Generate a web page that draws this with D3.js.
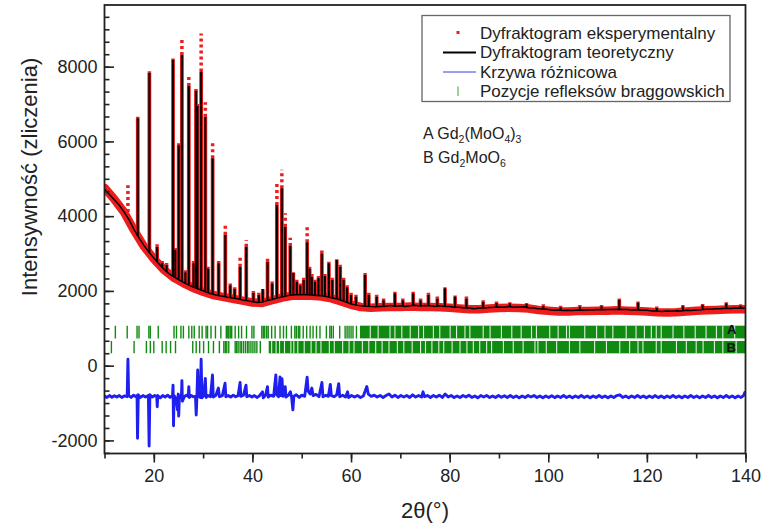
<!DOCTYPE html>
<html><head><meta charset="utf-8">
<script src="https://cdn.jsdelivr.net/npm/d3@7"></script>
<style>
html,body{margin:0;padding:0;background:#fff;}
svg{display:block;font-family:"Liberation Sans",Arial,sans-serif;}
</style></head>
<body><svg id="c" width="765" height="532"></svg>
<script>
// ---------- DATA ----------
const xTicks = [20, 40, 60, 80, 100, 120, 140];
const yTicks = [-2000, 0, 2000, 4000, 6000, 8000];

// calculated background (black curve)
const bgT = [10,11,12,13,14,15,16,17,18,19,20,21,22,23,24,25,26,27,28,29,30,31,32,33,34,35,36,37,38,39,40,41,42,43,44,45,46,47,48,49,50,51,52,53,54,55,56,57,58,59,60,61,62,63,64,65,66,67,68,69,70,71,72,73,74,75,76,77,78,79,80,81,82,83,84,85,86,87,88,89,90,91,92,93,94,95,96,97,98,99,100,101,102,103,104,105,106,107,108,109,110,111,112,113,114,115,116,117,118,119,120,121,122,123,124,125,126,127,128,129,130,131,132,133,134,135,136,137,138,139,140];
const calcBg = [4720,4580,4440,4290,4110,3900,3640,3420,3220,3040,2880,2730,2590,2470,2380,2300,2230,2160,2100,2050,2000,1950,1910,1880,1860,1830,1810,1790,1760,1740,1710,1690,1700,1740,1770,1810,1840,1870,1890,1900,1900,1900,1890,1880,1870,1850,1820,1790,1750,1700,1650,1620,1600,1590,1580,1575,1585,1590,1610,1590,1600,1585,1605,1615,1595,1610,1600,1585,1600,1580,1585,1565,1565,1545,1545,1525,1545,1540,1555,1560,1570,1565,1580,1565,1570,1575,1550,1545,1520,1515,1500,1485,1490,1475,1482,1476,1490,1485,1495,1490,1500,1495,1505,1500,1512,1502,1505,1490,1498,1482,1485,1465,1465,1452,1460,1455,1468,1465,1480,1478,1492,1495,1510,1508,1522,1520,1535,1530,1542,1535,1545];

// observed background (red band)
const obsT = [10,12,14,16,18,20,22,24,26,28,30,32,34,36,38,40,42,44,46,48,50,52,54,56,58,60,62,64,66,68,70,72,74,76,78,80,82,84,86,88,90,92,94,96,98,100,102,104,106,108,110,112,114,116,118,120,122,124,126,128,130,132,134,136,138,140];
const obsBg = [4760,4450,4100,3620,3190,2860,2570,2360,2210,2080,1980,1890,1840,1790,1740,1690,1680,1750,1820,1870,1880,1870,1850,1800,1720,1630,1570,1550,1560,1570,1570,1580,1570,1570,1560,1550,1530,1510,1510,1530,1540,1550,1540,1530,1490,1470,1450,1450,1460,1460,1470,1470,1480,1470,1460,1450,1430,1420,1430,1450,1470,1480,1490,1500,1510,1510];

// Bragg reflections: position, background level, calculated max, observed max
const peakT    = [14.75,16.75,19.1,20.67,21.7,22.6,23.9,24.35,25.05,25.7,26.4,27.1,28.06,28.55,28.85,29.6,30.45,31.0,31.93,33.15,34.5,35.5,36.4,37.5,38.75,40.2,41.3,42.1,43.07,44.0,44.96,45.97,46.65,47.67,48.3,49.0,49.7,50.4,51.1,51.6,52.05,52.7,53.4,54.08,54.7,55.5,56.2,57.1,57.8,58.5,59.2,60.0,61.0,62.85,63.6,65.2,66.6,68.9,70.5,72.6,74.1,75.7,77.5,79.05,81.1,83.4,86.8,89.5,92.2,95.6,99.0,102.5,106.4,110.8,114.4,118.2,122.0,127.3,131.3,136.1,139.0];
const peakBase = [3950,3470,3020,2780,2630,2520,2390,2350,2300,2250,2200,2155,2095,2070,2055,2020,1980,1950,1915,1878,1845,1820,1800,1775,1745,1705,1692,1705,1742,1770,1808,1840,1860,1883,1893,1900,1900,1900,1900,1895,1890,1883,1876,1868,1856,1835,1814,1786,1758,1725,1690,1650,1620,1592,1584,1577,1588,1591,1595,1606,1600,1601,1592,1585,1569,1546,1544,1563,1574,1565,1510,1483,1487,1500,1508,1489,1462,1472,1502,1530,1540];
const peakCalc = [3950,6620,7840,3180,2750,2700,8180,3100,5900,8310,2500,7480,2740,7350,6950,7870,6660,2600,5550,2740,3500,2150,2050,2650,3180,1950,1900,2050,2780,2200,4300,4750,3720,3200,2480,2250,2150,2300,3300,2600,2380,2250,2350,3000,2400,2740,2300,2830,2650,2290,2100,1900,1850,2430,1900,1850,1750,1940,1750,1940,1750,1900,1800,2070,1850,1800,1710,1680,1670,1650,1600,1560,1580,1590,1760,1690,1540,1590,1620,1670,1600];
const peakObs  = [4830,6660,7880,3250,2800,2750,8220,3150,5950,8760,2550,7780,2800,7400,7000,8890,7050,2650,6030,2800,3770,2200,2100,2960,3360,2000,1950,2000,2920,2250,4880,5240,4080,3420,2500,2300,2200,2350,3720,2650,2450,2300,2400,3100,2450,2780,2350,2850,2700,2350,2150,1950,1900,2480,1950,1900,1800,1980,1800,1980,1800,1950,1850,2100,1880,1850,1750,1720,1700,1680,1640,1600,1620,1620,1800,1720,1580,1620,1650,1700,1640];

// difference curve (obs - calc, offset)
const diffT = [10,10.5,11,11.5,12,12.5,13,13.5,14,14.6,14.75,14.9,15.4,15.9,16.4,16.6,16.7,16.85,17.3,17.8,18.3,18.9,19.05,19.2,19.7,20.2,20.6,20.7,20.8,21.3,21.8,22.3,22.8,23.3,23.8,23.9,24.0,24.1,24.5,24.8,24.95,25.05,25.2,25.6,25.7,25.8,26.2,26.6,27.0,27.1,27.2,27.6,28.0,28.45,28.6,28.75,28.9,29.05,29.45,29.6,29.75,30.1,30.45,30.6,31.0,31.5,31.9,32.05,32.6,33.1,33.3,33.9,34.45,34.6,35.1,35.6,36.1,36.6,37.1,37.5,37.65,38.2,38.7,38.85,39.4,39.9,40.4,40.9,41.4,42.05,42.2,42.7,43.05,43.2,43.7,44.3,44.75,44.9,45.3,45.6,45.75,46.0,46.2,46.65,46.8,47.3,47.7,47.95,48.2,48.4,48.9,49.5,50.0,50.6,51.1,51.3,51.7,52.05,52.3,52.9,53.5,54.1,54.3,54.9,55.4,55.8,56.0,56.6,57.1,57.5,57.7,58.3,58.9,59.3,59.5,60.1,60.7,61.3,61.9,62.5,63.2,63.5,64.1,64.7,65.3,65.9,66.5,67.1,67.7,68.3,68.9,69.5,70.1,70.7,71.3,71.9,72.5,73.1,73.7,74.3,74.6,74.9,75.5,76.1,76.7,77.3,77.9,78.5,79.1,79.7,80.3,80.9,81.5,82.1,82.7,83.3,83.9,84.5,85.1,85.7,86.3,86.9,87.5,88.1,88.7,89.3,89.9,90.5,91.1,91.7,92.3,92.9,93.5,94.1,94.7,95.3,95.9,96.5,97.1,97.7,98.3,98.9,99.5,100.1,100.7,101.3,101.9,102.5,103.1,103.7,104.3,104.9,105.5,106.1,106.7,107.3,107.9,108.5,109.1,109.7,110.3,110.9,111.5,112.1,112.7,113.3,113.9,114.5,115.1,115.7,116.3,116.9,117.5,118.1,118.7,119.3,119.9,120.5,121.1,121.7,122.3,122.9,123.5,124.1,124.7,125.3,125.9,126.5,127.1,127.7,128.3,128.9,129.5,130.1,130.7,131.3,131.9,132.5,133.1,133.7,134.3,134.9,135.5,136.1,136.7,137.3,137.9,138.5,139.1,139.6,139.85,140];
const diffV = [-810,-850,-800,-845,-805,-840,-800,-850,-810,-830,170,-800,-850,-790,-830,-800,-1940,-780,-850,-800,-840,-800,-2150,-780,-840,-800,-830,-1100,-800,-860,-800,-840,-790,-850,-800,-520,-1610,-800,-880,-1180,-760,-1350,-800,-850,-400,-950,-830,-790,-830,-560,-850,-800,-830,-820,-1320,-800,-115,-820,-850,170,-860,-800,-340,-850,-800,-830,-250,-840,-790,-600,-830,-800,-470,-830,-800,-840,-790,-830,-800,-450,-820,-790,-520,-830,-800,-840,-800,-850,-810,-700,-860,-780,-560,-840,-790,-820,-250,-780,-830,-300,-800,-350,-820,-560,-840,-790,-700,-840,-1180,-820,-780,-850,-790,-820,-310,-680,-760,-600,-800,-770,-830,-450,-830,-790,-820,-500,-800,-830,-780,-480,-830,-790,-840,-700,-850,-800,-840,-800,-850,-810,-560,-760,-820,-790,-840,-800,-850,-800,-760,-840,-790,-850,-800,-840,-800,-850,-780,-840,-800,-840,-700,-830,-800,-850,-800,-840,-790,-850,-760,-840,-800,-850,-810,-850,-800,-840,-790,-850,-810,-860,-800,-840,-800,-850,-810,-850,-800,-845,-805,-850,-800,-850,-810,-860,-810,-850,-800,-840,-800,-850,-810,-860,-810,-850,-805,-855,-810,-850,-800,-850,-810,-860,-810,-850,-800,-850,-810,-860,-810,-850,-800,-850,-810,-860,-810,-850,-800,-780,-850,-810,-860,-810,-850,-800,-850,-810,-860,-810,-850,-800,-855,-810,-860,-810,-850,-800,-850,-810,-860,-810,-850,-800,-850,-810,-860,-810,-850,-800,-850,-810,-860,-810,-850,-800,-850,-810,-860,-810,-850,-800,-720,-790];

// Bragg positions: phase A Gd2(MoO4)3, phase B Gd2MoO6
const braggA = [12.2,14.6,16.6,17.0,19.0,19.3,20.9,24.1,24.6,25.5,26.0,27.1,27.7,28.2,29.2,29.8,30.6,30.9,31.6,32.5,33.6,34.7,35.0,35.2,35.5,35.8,36.5,37.2,37.8,38.8,39.9,40.3,41.9,42.2,42.5,42.9,43.2,43.9,44.6,45.6,46.3,46.9,47.9,48.6,48.9,49.3,49.6,50.3,51.0,51.7,52.3,53.0,53.7,55.0,55.7,56.0,56.4,57.7,58.8,59.2,59.6,60.0,60.4,61.1];
const bandA = [61.8, 140.5];
const gapsA = [63.9,65.5,67.9,68.9,70.3,72.0,73.7,74.7,76.7,78.0,80.1,81.4,83.1,84.1,86.8,88.2,90.5,92.6,94.5,96.6,97.6,100.3,102.0,103.7,104.3,107.4,109.8,111.5,113.1,115.8,117.8,119.5,120.9,121.9,122.9,125.3,127.5,129.8,132.0,134.1,135.4,137.8];
const braggB = [11.4,16.0,18.5,19.3,20.0,21.7,22.5,23.4,24.4,27.9,28.6,29.3,30.1,31.1,32.1,33.3,34.2,34.5,34.8,35.2,36.5,36.8,37.1,37.5,37.8,38.2,38.6,39.0,39.3,39.7,40.1,40.5,40.9,41.6];
const bandB = [43.3, 140.5];
const gapsB = [43.9,44.8,45.5,46.5,47.8,48.4,49.2,50.5,51.9,52.9,53.9,55.6,56.6,58.3,59.6,60.6,62.3,63.6,65.0,66.3,67.7,69.4,70.7,72.4,74.1,75.1,76.4,77.8,78.8,80.5,82.1,83.5,84.8,86.1,87.5,88.5,90.9,92.9,94.9,97.3,97.9,99.6,101.7,104.3,106.4,109.4,111.8,114.5,116.5,118.2,119.2,121.9,122.9,126,128,130,131.4,133.7,135.4,138.1];
const rowA = [730, 1070];
const rowB = [330, 660];

// ---------- DRAW ----------
const svg = d3.select("#c");
const L = 104.5, R = 745.5, T = 5, B = 453.5;
const x = d3.scaleLinear().domain([10, 140]).range([L, R]);
const y = d3.scaleLinear().domain([-2350, 9650]).range([B, T]);

svg.append("defs").append("clipPath").attr("id", "clip")
  .append("rect").attr("x", L).attr("y", T).attr("width", R - L).attr("height", B - T);
const g = svg.append("g").attr("clip-path", "url(#clip)");

const RED = "#ee1c1c", BLUE = "#1f1fef", GREEN = "#118a11";

const line = d3.line().x(d => x(d[0])).y(d => y(d[1]));

// observed band
g.append("path").datum(obsT.map((t, i) => [t, obsBg[i]]))
  .attr("d", line).attr("fill", "none").attr("stroke", RED)
  .attr("stroke-width", 8.5).attr("stroke-linejoin", "round").attr("stroke-linecap", "round");

// observed peaks (red, under black)
g.selectAll(".op").data(peakT).join("line")
  .attr("x1", d => x(d)).attr("x2", d => x(d))
  .attr("y1", (d, i) => y(peakBase[i])).attr("y2", (d, i) => y(Math.min(peakCalc[i], peakObs[i])))
  .attr("stroke", RED).attr("stroke-width", 3.8);
// observed points above calculated maximum
g.selectAll(".od").data(peakT).join("line")
  .attr("x1", d => x(d)).attr("x2", d => x(d))
  .attr("y1", (d, i) => y(peakCalc[i])).attr("y2", (d, i) => y(peakObs[i]))
  .attr("stroke", RED).attr("stroke-width", 3.5).attr("stroke-dasharray", "3 3");

// calculated background
g.append("path").datum(bgT.map((t, i) => [t, calcBg[i]]))
  .attr("d", line).attr("fill", "none").attr("stroke", "#000").attr("stroke-width", 1.5);
// calculated peaks
g.selectAll(".cp").data(peakT).join("line")
  .attr("x1", d => x(d)).attr("x2", d => x(d))
  .attr("y1", (d, i) => y(peakBase[i])).attr("y2", (d, i) => y(peakCalc[i]))
  .attr("stroke", "#000").attr("stroke-width", 2);

// Bragg positions
function braggRow(ticks, band, gaps, row) {
  g.append("rect").attr("x", x(band[0])).attr("width", x(band[1]) - x(band[0]))
    .attr("y", y(row[1])).attr("height", y(row[0]) - y(row[1])).attr("fill", GREEN);
  g.selectAll(null).data(gaps).join("line")
    .attr("x1", d => x(d)).attr("x2", d => x(d)).attr("y1", y(row[1])).attr("y2", y(row[0]))
    .attr("stroke", "#dff0df").attr("stroke-width", 1.1);
  g.selectAll(null).data(ticks).join("line")
    .attr("x1", d => x(d)).attr("x2", d => x(d)).attr("y1", y(row[1])).attr("y2", y(row[0]))
    .attr("stroke", GREEN).attr("stroke-width", 1.4);
}
braggRow(braggA, bandA, gapsA, rowA);
braggRow(braggB, bandB, gapsB, rowB);

// difference curve
g.append("path").datum(diffT.map((t, i) => [t, diffV[i]]))
  .attr("d", line).attr("fill", "none").attr("stroke", BLUE)
  .attr("stroke-width", 2.9).attr("stroke-linejoin", "round");

// A / B labels
svg.append("text").attr("x", 727).attr("y", 333.5).text("A")
  .attr("font-size", 13).attr("font-weight", "bold").attr("fill", "#111");
svg.append("text").attr("x", 726.5).attr("y", 351.5).text("B")
  .attr("font-size", 13).attr("font-weight", "bold").attr("fill", "#111");

// frame
svg.append("rect").attr("x", L).attr("y", T).attr("width", R - L).attr("height", B - T)
  .attr("fill", "none").attr("stroke", "#222").attr("stroke-width", 1.8);

const fmt = d => String(d);

// x axis
const xa = svg.append("g").attr("transform", `translate(0,${B})`);
xa.call(d3.axisBottom(x).tickValues(d3.range(10, 141, 10)).tickSize(5).tickFormat(""));
const xm = svg.append("g").attr("transform", `translate(0,${B})`);
xm.call(d3.axisBottom(x).tickValues(xTicks).tickSize(9).tickPadding(7).tickFormat(fmt));
[xa, xm].forEach(a => {
  a.select(".domain").remove();
  a.selectAll("line").attr("stroke", "#222").attr("stroke-width", 1.6);
});
xm.selectAll("text").attr("font-size", 18).attr("fill", "#222")
  .attr("font-family", "Liberation Sans, Arial, sans-serif");

// y axis (ticks inward)
const yMinor = d3.range(-7, 29).map(k => k * 2000 / 6).filter(v => v > -2350 && v < 9650);
const ya = svg.append("g").attr("transform", `translate(${L},0)`);
ya.call(d3.axisLeft(y).tickValues(yMinor).tickSize(-5).tickFormat(""));
const ym = svg.append("g").attr("transform", `translate(${L},0)`);
ym.call(d3.axisLeft(y).tickValues(yTicks).tickSize(-9.5).tickPadding(7).tickFormat(fmt));
[ya, ym].forEach(a => {
  a.select(".domain").remove();
  a.selectAll("line").attr("stroke", "#222").attr("stroke-width", 1.6);
});
ym.selectAll("text").attr("font-size", 18).attr("fill", "#222")
  .attr("font-family", "Liberation Sans, Arial, sans-serif");

// axis titles
svg.append("text").attr("transform", "translate(37,177) rotate(-90)")
  .attr("text-anchor", "middle").attr("font-size", 22).attr("fill", "#222")
  .text("Intensywność (zliczenia)");
svg.append("text").attr("x", 425).attr("y", 518).attr("text-anchor", "middle")
  .attr("font-size", 22).attr("fill", "#222").text("2θ(°)");

// legend
const lg = svg.append("g");
lg.append("rect").attr("x", 422).attr("y", 15.5).attr("width", 308).attr("height", 86)
  .attr("fill", "#fff").attr("stroke", "#666").attr("stroke-width", 1.3);
const legendItems = ["Dyfraktogram eksperymentalny", "Dyfraktogram teoretyczny", "Krzywa różnicowa", "Pozycje refleksów braggowskich"];
const baselines = [38.5, 58.3, 77.8, 97];
legendItems.forEach((s, i) => {
  lg.append("text").attr("x", 480).attr("y", baselines[i]).attr("font-size", 17)
    .attr("fill", "#222").text(s);
});
lg.append("rect").attr("x", 456.5).attr("y", 31).attr("width", 3).attr("height", 3).attr("fill", RED);
lg.append("line").attr("x1", 443).attr("x2", 476).attr("y1", 52.5).attr("y2", 52.5)
  .attr("stroke", "#000").attr("stroke-width", 2);
lg.append("line").attr("x1", 443).attr("x2", 476).attr("y1", 72).attr("y2", 72)
  .attr("stroke", "#3b3bf0").attr("stroke-width", 1);
lg.append("line").attr("x1", 458).attr("x2", 458).attr("y1", 86.5).attr("y2", 96)
  .attr("stroke", "#6ab86a").attr("stroke-width", 1.3);

// phase annotations
const ann = svg.append("g").attr("font-size", 16).attr("fill", "#222");
const a1 = ann.append("text").attr("x", 423).attr("y", 139);
a1.append("tspan").text("A Gd");
a1.append("tspan").attr("font-size", 10.5).attr("dy", 4).text("2");
a1.append("tspan").attr("dy", -4).text("(MoO");
a1.append("tspan").attr("font-size", 10.5).attr("dy", 4).text("4");
a1.append("tspan").attr("dy", -4).text(")");
a1.append("tspan").attr("font-size", 10.5).attr("dy", 4).text("3");
const a2 = ann.append("text").attr("x", 423).attr("y", 163);
a2.append("tspan").text("B Gd");
a2.append("tspan").attr("font-size", 10.5).attr("dy", 4).text("2");
a2.append("tspan").attr("dy", -4).text("MoO");
a2.append("tspan").attr("font-size", 10.5).attr("dy", 4).text("6");
</script></body></html>
